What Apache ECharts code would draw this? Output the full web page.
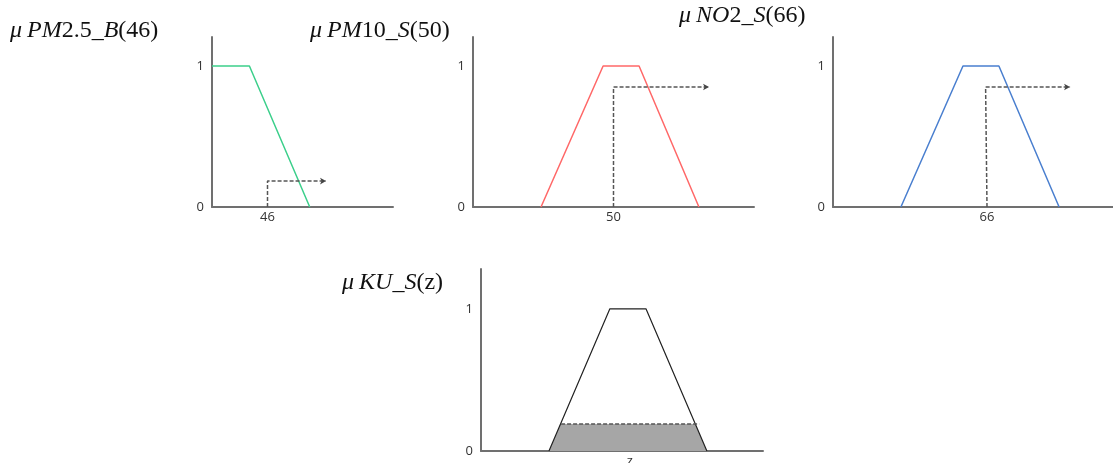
<!DOCTYPE html>
<html><head><meta charset="utf-8">
<script src="https://cdn.jsdelivr.net/npm/echarts@6/dist/echarts.min.js"></script>
<style>html,body{margin:0;padding:0;background:#fff}#c{width:1113px;height:463px}</style>
</head><body><div id="c"></div>
<script>
// Membership functions (x in axis units, y = membership)
const pm25Shape = [[0,1],[31,1],[81,0]];
const pm25Cut = [[46,0],[46,0.184],[94.5,0.184]];
const pm10Shape = [[24.2,0],[46.3,1],[59.1,1],[80.4,0]];
const pm10Cut = [[50,0],[50,0.851],[84,0.851]];
const no2Shape = [[29.1,0],[55.7,1],[71.1,1],[96.9,0]];
const no2Cut = [[66,0],[65.4,0.851],[101.6,0.851]];
const kuShape = [[24.1,0],[45.7,1],[58.5,1],[80.1,0]];
const kuFill = [[24.1,0],[28.2,0.19],[76.0,0.19],[80.1,0]];
const kuCut = [[28.4,0.19],[77.4,0.19]];
const xTicks = [[46],[50],[66],[52.8]];
const xTickText = [['46'],['50'],['66'],['z']];
const yTicks = [0,1];

const chart = echarts.init(document.getElementById('c'));
const axisColor = '#707070';
const grids = [
  {left:212, top:37, width:181, height:170},
  {left:473, top:37, width:281, height:170},
  {left:833, top:37, width:280, height:170},
  {left:481, top:269, width:282, height:182}
].map(g=>Object.assign({outerBoundsMode:'none', containLabel:false}, g));
const xMax = [150,100,120,100];
const yMax = [1.206,1.206,1.206,1.28];
const labelFont = {fontFamily:'Open Sans', fontSize:13, color:'#333'};
const xAxes = grids.map((g,i)=>({
  type:'value', gridIndex:i, min:0, max:xMax[i],
  axisLine:{show:true, lineStyle:{color:axisColor, width:2}},
  axisTick:{show:false}, splitLine:{show:false},
  axisLabel:Object.assign({show:true, margin:4, customValues: xTicks[i],
    formatter: () => xTickText[i][0]}, labelFont)
}));
const yAxes = grids.map((g,i)=>({
  type:'value', gridIndex:i, min:0, max:yMax[i],
  axisLine:{show:true, onZero:false, lineStyle:{color:axisColor, width:2}},
  axisTick:{show:false}, splitLine:{show:false},
  axisLabel:Object.assign({show:true, margin:8, customValues:yTicks, formatter: v=>String(v)}, labelFont)
}));

function shape(data, idx, color, w){
  return {type:'line', xAxisIndex:idx, yAxisIndex:idx, data:data, symbol:'none',
    lineStyle:{color:color, width:w}, silent:true, animation:false, z:3};
}
function cut(data, idx){
  const d = data.map((p,k)=> k===data.length-1
    ? {value:p, symbol:'arrow', symbolSize:[5,6], symbolRotate:-90, itemStyle:{color:'#444'}}
    : {value:p, symbol:'none'});
  return {type:'line', xAxisIndex:idx, yAxisIndex:idx, data:d, showSymbol:true,
    lineStyle:{color:'#555', width:1.5, type:[4,2]}, silent:true, animation:false, z:4};
}

const titleStyle = {
  fontWeight:'normal',
  rich:{
    i:{fontFamily:'Liberation Serif', fontStyle:'italic', fontWeight:'normal', fontSize:24, color:'#111'},
    n:{fontFamily:'Liberation Serif', fontWeight:'normal', fontSize:24, color:'#111'}
  }
};
const titles = [
  {left:10, top:19, text:'{i|μ} {i|PM}{n|2.5_}{i|B}{n|(46)}'},
  {left:310, top:19, text:'{i|μ} {i|PM}{n|10_}{i|S}{n|(50)}'},
  {left:679, top:4, text:'{i|μ} {i|NO}{n|2_}{i|S}{n|(66)}'},
  {left:342, top:271, text:'{i|μ} {i|KU}{n|_}{i|S}{n|(z)}'}
].map(t=>({left:t.left, top:t.top, text:t.text, padding:0, textStyle:titleStyle}));

chart.setOption({
  animation:false,
  title:titles,
  grid:grids,
  xAxis:xAxes,
  yAxis:yAxes,
  series:[
    shape(pm25Shape,0,'#3ccf8b',1.5), cut(pm25Cut,0),
    shape(pm10Shape,1,'#ff6868',1.5), cut(pm10Cut,1),
    shape(no2Shape,2,'#4a7fcf',1.5), cut(no2Cut,2),
    {type:'line', xAxisIndex:3, yAxisIndex:3, data:kuFill, symbol:'none',
      lineStyle:{width:0}, areaStyle:{color:'#a6a6a6', opacity:1}, silent:true, z:2},
    shape(kuShape,3,'#222',1.2),
    {type:'line', xAxisIndex:3, yAxisIndex:3, data:kuCut, symbol:'none',
      lineStyle:{color:'#555', width:1.5, type:[4,2]}, silent:true, z:4}
  ]
});
</script></body></html>
